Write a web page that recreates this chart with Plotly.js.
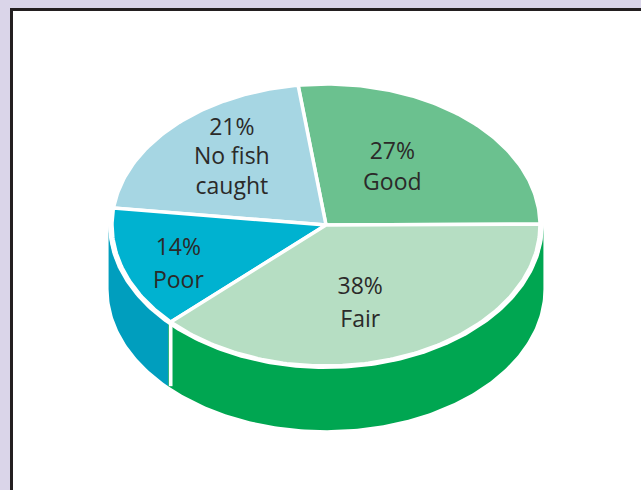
<!DOCTYPE html>
<html>
<head>
<meta charset="utf-8">
<script src="https://cdn.plot.ly/plotly-3.0.1.min.js"></script>
<style>html,body{margin:0;padding:0;background:#dad5e9}#chart{width:641px;height:490px}</style>
</head>
<body>
<div id="chart"></div>
<script>
// Catch quality shares, counter-clockwise from the right-hand edge of the disc
var categories = ['Good', 'No fish<br>caught', 'Poor', 'Fair'];
var shares = [27, 21, 14, 38];
var topColors = ['#6bc18f', '#a6d6e3', '#00b2d0', '#b6dec3'];
var wallColors = ['#00a651', '#009ebe', '#009ebe', '#00a651'];
var labelX = [0.31, -0.44, -0.69, 0.16];
var percentY = [0.51, 0.68, -0.175, -0.445];
var nameY = [0.29, 0.365, -0.405, -0.685];

// Disc drawn in unit coordinates; the axes below squash it into an ellipse
var W = 641, H = 490, cx = 326, cy = 225, rx = 214, ry = 141;
var startDeg = 0.3, wallDrop = 0.455, wallWiden = 1.016, haloX = 1.018, haloY = 1.022;

function rad(d) { return d * Math.PI / 180; }
function arc(a, b, sx, sy, dy) {
  var xs = [], ys = [], n = Math.max(2, Math.ceil(Math.abs(b - a)));
  for (var i = 0; i <= n; i++) {
    var t = rad(a + (b - a) * i / n);
    xs.push(sx * Math.cos(t));
    ys.push(sy * Math.sin(t) + dy);
  }
  return {x: xs, y: ys};
}
function filled(x, y, color, line) {
  return {x: x, y: y, type: 'scatter', mode: 'lines', fill: 'toself', fillcolor: color,
    line: line || {width: 0, color: color}, hoverinfo: 'skip', showlegend: false};
}
function textLayer(y, text) {
  return {x: labelX, y: y, type: 'scatter', mode: 'text', text: text,
    textposition: 'middle center',
    textfont: {family: '"Open Sans", sans-serif', size: 23, color: '#2b2a29'},
    hoverinfo: 'skip', showlegend: false};
}

var traces = [], angle = startDeg, dividers = [];
var spans = shares.map(function (s) {
  var a = angle; angle += s * 3.6;
  return [a, angle];
});

// Side wall: the part of each slice that faces the viewer
spans.forEach(function (sp, i) {
  var a = Math.max(sp[0], 180), b = Math.min(sp[1], 360);
  if (b <= a) return;
  var low = arc(a, b, wallWiden, 1, -wallDrop);
  var up = arc(b, a, wallWiden, 1, 0);
  traces.push(filled(low.x.concat(up.x), low.y.concat(up.y), wallColors[i]));
  if (a > 180) dividers.push(a);
});

// White rim separating the disc from the wall
var halo = arc(0, 360, haloX, haloY, 0);
traces.push(filled(halo.x, halo.y, '#ffffff'));

// White seam down the wall between two slices
dividers.forEach(function (d) {
  var t = rad(d);
  traces.push({x: [Math.cos(t), Math.cos(t)], y: [Math.sin(t), Math.sin(t) - wallDrop],
    type: 'scatter', mode: 'lines', line: {color: '#ffffff', width: 3.5}, hoverinfo: 'skip', showlegend: false});
});

// Top face of the disc
spans.forEach(function (sp, i) {
  var e = arc(sp[0], sp[1], 1, 1, 0);
  traces.push(filled([0].concat(e.x, [0]), [0].concat(e.y, [0]), topColors[i], {color: '#ffffff', width: 3.5}));
});

// Percent and category labels on the slices
traces.push(textLayer(percentY, shares.map(function (s) { return s + '%'; })));
traces.push(textLayer(nameY, categories));

var layout = {
  width: W, height: H, margin: {l: 0, r: 0, t: 0, b: 0},
  paper_bgcolor: '#dad5e9', plot_bgcolor: 'rgba(0,0,0,0)', showlegend: false,
  xaxis: {visible: false, fixedrange: true, range: [(0 - cx) / rx, (W - cx) / rx]},
  yaxis: {visible: false, fixedrange: true, range: [(cy - H) / ry, cy / ry]},
  shapes: [{
    type: 'rect', xref: 'paper', yref: 'paper', layer: 'below',
    x0: 11.5 / W, x1: 1.1, y0: -0.1, y1: 1 - 9.5 / H,
    fillcolor: '#ffffff', line: {color: '#231f20', width: 3}
  }]
};
Plotly.newPlot('chart', traces, layout, {displayModeBar: false, staticPlot: true});
</script>
</body>
</html>
